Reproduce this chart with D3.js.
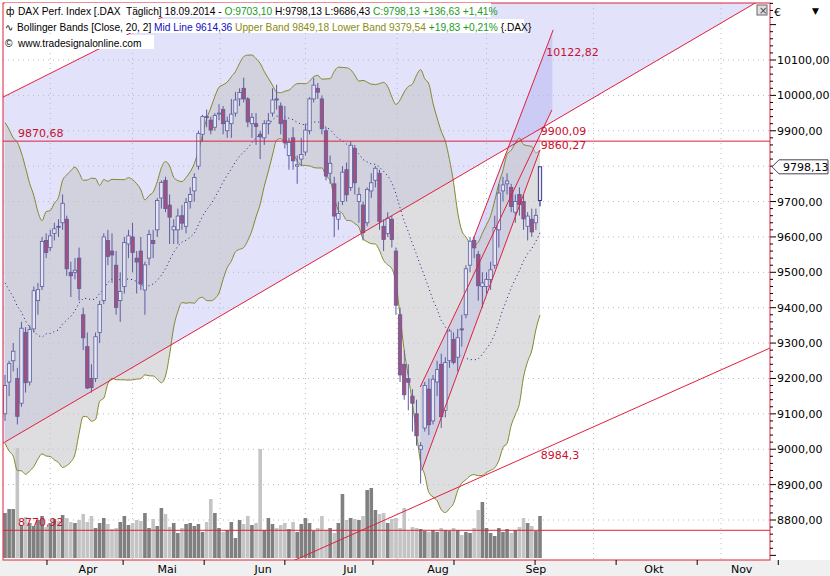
<!DOCTYPE html>
<html>
<head>
<meta charset="utf-8">
<script src="https://cdn.jsdelivr.net/npm/d3@7"></script>
<style>
  body { margin: 0; background: #fff; }
  text { font-family: "DejaVu Sans", sans-serif; }
  .hdr text { font-family: "Liberation Sans", Arial, sans-serif; }
</style>
</head>
<body>
<div class="D3"></div>
<script>
// daily OHLC, 17.03.2014 .. 18.09.2014
const ohlc = [
  [9100,9210,9080,9180],[9190,9250,9150,9242],[9250,9300,9220,9277],[9200,9230,9070,9093],[9130,9360,9120,9342],
  [9330,9345,9160,9188],[9190,9350,9180,9338],[9340,9460,9330,9448],[9420,9470,9380,9451],[9460,9600,9450,9587],
  [9590,9610,9540,9556],[9570,9620,9560,9603],[9610,9640,9590,9623],[9630,9650,9600,9628],[9640,9720,9620,9695],
  [9650,9660,9490,9510],[9500,9530,9430,9490],[9500,9540,9480,9506],[9540,9570,9420,9454],[9380,9400,9280,9315],
  [9290,9330,9170,9173],[9200,9240,9160,9174],[9200,9330,9190,9318],[9330,9420,9300,9409],[9420,9610,9410,9600],
  [9590,9620,9520,9545],[9560,9610,9470,9549],[9520,9560,9380,9401],[9420,9500,9360,9446],[9460,9600,9440,9584],
  [9580,9620,9540,9603],[9600,9640,9500,9556],[9540,9560,9440,9529],[9560,9600,9450,9467],[9450,9530,9380,9521],
  [9540,9620,9520,9607],[9590,9620,9540,9581],[9620,9710,9600,9703],[9710,9760,9680,9754],[9760,9770,9670,9680],
  [9690,9720,9580,9656],[9620,9650,9580,9629],[9620,9680,9580,9659],[9660,9690,9620,9639],[9630,9710,9610,9697],
  [9700,9740,9680,9720],[9730,9780,9700,9768],[9800,9900,9790,9892],[9890,9945,9870,9940],[9940,9960,9910,9939],
  [9930,9940,9890,9902],[9910,9950,9900,9943],[9950,9975,9930,9950],[9960,9970,9890,9920],[9900,9940,9880,9927],
  [9920,9990,9880,9947],[9950,10010,9940,9987],[9990,10020,9970,10008],[10020,10050,9980,9990],[9990,9995,9910,9925],
  [9920,9950,9880,9938],[9920,9950,9860,9912],[9890,9900,9820,9883],[9880,9930,9860,9920],[9920,9950,9890,9928],
  [9950,10020,9940,9987],[9990,10030,9960,9987],[9970,9980,9890,9920],[9930,9970,9850,9866],[9830,9880,9790,9867],
  [9880,9910,9790,9815],[9800,9830,9750,9804],[9820,9880,9800,9833],[9840,9920,9830,9902],[9900,9995,9890,9990],
  [9990,10050,9980,10029],[10020,10035,9990,10009],[9990,10000,9890,9906],[9900,9910,9760,9772],[9780,9830,9750,9808],
  [9750,9770,9600,9659],[9650,9700,9620,9666],[9700,9800,9690,9783],[9790,9810,9700,9719],[9740,9870,9730,9859],
  [9850,9860,9720,9753],[9700,9740,9640,9720],[9690,9700,9590,9612],[9640,9740,9630,9734],[9730,9780,9710,9753],
  [9760,9800,9740,9794],[9780,9790,9620,9644],[9630,9650,9560,9593],[9610,9670,9600,9653],[9650,9660,9570,9593],
  [9560,9570,9380,9407],[9380,9400,9190,9210],[9240,9280,9140,9154],[9200,9240,9110,9189],[9150,9170,9050,9130],
  [9100,9140,9010,9038],[9000,9020,8903,9010],[9060,9190,9050,9180],[9170,9200,9040,9069],[9080,9210,9070,9198],
  [9190,9250,9150,9225],[9240,9270,9060,9092],[9110,9260,9090,9245],[9250,9340,9230,9334],[9310,9330,9240,9245],
  [9260,9340,9220,9315],[9340,9380,9290,9339],[9380,9520,9370,9510],[9520,9600,9500,9588],[9590,9600,9540,9569],
  [9550,9560,9420,9462],[9460,9500,9400,9470],[9460,9500,9440,9480],[9480,9530,9450,9507],[9520,9660,9510,9626],
  [9620,9750,9570,9724],[9730,9770,9700,9747],[9750,9780,9720,9758],[9740,9750,9670,9686],[9670,9720,9640,9700],
  [9720,9740,9660,9691],[9700,9720,9620,9651],[9630,9670,9590,9659],[9650,9680,9600,9614],[9640,9680,9620,9661],
  [9703.10,9798.13,9686.43,9798.13]
];
// closes before the visible range (for the 20-day bands)
const priorCloses = [9660,9660,9620,9660,9700,9690,9660,9700,9692,9358,9590,9507,9542,9350,9307,9265,9190,9017,9056];
const volumes = [
  90,98,98,220,66,82,70,64,76,84,62,70,78,74,86,80,72,70,76,88,
  72,84,60,70,80,68,58,60,72,84,66,70,76,74,90,60,78,64,100,88,
  62,70,50,60,68,70,64,68,52,72,118,90,60,52,56,72,40,76,68,84,
  66,70,218,56,80,68,60,66,70,58,72,52,68,80,70,54,60,84,56,60,
  50,70,128,76,80,78,76,84,136,140,96,88,90,70,78,80,60,100,54,62,
  60,58,54,52,56,52,60,56,54,60,56,46,52,50,60,96,112,60,50,44,
  60,52,58,50,56,62,80,70,64,54,84
];
const yTicks = [8800,8900,9000,9100,9200,9300,9400,9500,9600,9700,9800,9900,10000,10100];
const months = ["Apr","Mai","Jun","Jul","Aug","Sep","Okt","Nov"];
const monthPos = [20.2,39.4,62.7,83.8,105.2,129,157.7,179];
const xTickPos = [10.2,28.7,48.4,68,89.4,109.1,128.8,148.5,168.2,187.9];
const xGridPos = [11,31,52.3,73,95.3,117,143,174];
const hLevels = [{v:9870.68,label:"9870,68"},{v:8770.92,label:"8770,92"}];
const bigUpper = [[-0.5,9995],[45,10261]];
const bigLower = [[-0.5,9017],[182.3,10261]];
const steepLine = [[113.7,9591],[133.2,10185]];
const chanUpper = [[100.9,9176],[132.9,9959]];
const chanLower = [[101.3,8941],[130,9846]];
const longLower = [[70.5,8687],[185.9,9286]];
const lineLabels = [
  {i:131.5,v:10122.82,t:"10122,82"},{i:130.2,v:9900.09,t:"9900,09"},
  {i:130.2,v:9860.27,t:"9860,27"},{i:130.2,v:8984.3,t:"8984,3"}
];

const W = 830, H = 576;
const L = 3, R = 770, T = 3, B = 560;
const x = d3.scaleLinear().domain([0, 130]).range([5, 540]);
const y = d3.scaleLinear().domain([8800, 10100]).range([520, 60]);
const yVol = d3.scaleLinear().domain([0, 220]).range([558, 448]);

// Bollinger Bands [Close, 20, 2]
const closes = priorCloses.concat(ohlc.map(d => d[3]));
const bands = ohlc.map((d, i) => {
  const win = closes.slice(i, i + 20);
  const m = d3.mean(win);
  const sd = Math.sqrt(d3.mean(win, c => (c - m) * (c - m)));
  return {i, mid: m, up: m + 2 * sd, lo: m - 2 * sd};
});

const svg = d3.select(".D3").append("svg").attr("width", W).attr("height", H);
svg.append("rect").attr("width", W).attr("height", H).attr("fill", "#fff");
svg.append("rect").attr("x", 0).attr("y", B).attr("width", W).attr("height", H - B).attr("fill", "#f0f0f0");

svg.append("clipPath").attr("id", "plot").append("rect")
  .attr("x", L).attr("y", T).attr("width", R - L).attr("height", B - T);
const g = svg.append("g").attr("clip-path", "url(#plot)");

const lineAt = (seg, i) => seg[0][1] + (seg[1][1] - seg[0][1]) * (i - seg[0][0]) / (seg[1][0] - seg[0][0]);
const iMin = x.invert(L), iMax = x.invert(R);

// lavender channel area
const lav = d3.range(0, 41).map(k => iMin + (iMax - iMin) * k / 40);
g.append("path")
  .datum(lav)
  .attr("fill", "#e2e2fa")
  .attr("d", d3.area().x(i => x(i)).y0(i => y(lineAt(bigLower, i))).y1(i => Math.min(y(lineAt(bigUpper, i)), y(lineAt(bigLower, i)))));

// grid
g.selectAll(".hg").data(yTicks).join("line")
  .attr("x1", L).attr("x2", R).attr("y1", d => y(d)).attr("y2", d => y(d))
  .attr("stroke", "#b8b8c8").attr("stroke-dasharray", "1,4");
g.selectAll(".vg").data(xGridPos).join("line")
  .attr("x1", d => x(d)).attr("x2", d => x(d)).attr("y1", T).attr("y2", B)
  .attr("stroke", "#b8b8c8").attr("stroke-dasharray", "1,4");

// steep channel fills
const chI = d3.range(101, 133.3, 0.5);
g.append("path").datum(chI).attr("fill", "#b8b8f0").attr("opacity", 0.55)
  .attr("d", d3.area().x(i => x(i)).y0(i => y(lineAt(chanUpper, i))).y1(i => i < 113.7 ? y(lineAt(chanUpper, i)) : y(lineAt(steepLine, i))));

// volume
g.selectAll(".vol").data(volumes).join("rect")
  .attr("x", (d, i) => x(i) - 1.8).attr("width", 3.6)
  .attr("y", d => yVol(d)).attr("height", d => yVol(0) - yVol(d))
  .attr("fill", (d, i) => ohlc[i][3] >= ohlc[i][0] ? "#808080" : "#c4c4c4");

// bollinger band
g.append("path").datum(bands).attr("fill", "#c8c8cc").attr("fill-opacity", 0.6)
  .attr("d", d3.area().x(d => x(d.i)).y0(d => y(d.lo)).y1(d => y(d.up)).curve(d3.curveMonotoneX));
const bl = d3.line().x(d => x(d.i)).curve(d3.curveMonotoneX);
g.append("path").datum(bands).attr("fill", "none").attr("stroke", "#86862a").attr("d", bl.y(d => y(d.up)));
g.append("path").datum(bands).attr("fill", "none").attr("stroke", "#86862a").attr("d", bl.y(d => y(d.lo)));
g.append("path").datum(bands).attr("fill", "none").attr("stroke", "#1a1a8c").attr("stroke-dasharray", "1,3")
  .attr("d", d3.line().x(d => x(d.i)).y(d => y(d.mid)));

g.append("path").datum(chI.filter(i => i <= 130)).attr("fill", "#c0c0e4").attr("opacity", 0.5)
  .attr("d", d3.area().x(i => x(i)).y0(i => y(lineAt(chanLower, i))).y1(i => y(lineAt(chanUpper, i))));

// candles
const cg = g.selectAll(".c").data(ohlc).join("g");
cg.append("line")
  .attr("x1", (d, i) => x(i)).attr("x2", (d, i) => x(i))
  .attr("y1", d => y(d[1])).attr("y2", d => y(d[2]))
  .attr("stroke", (d, i) => i == 130 ? "#101070" : "#5c5ca0");
cg.append("rect")
  .attr("x", (d, i) => x(i) - 1.7).attr("width", 3.4)
  .attr("y", d => y(Math.max(d[0], d[3])))
  .attr("height", d => Math.max(1, Math.abs(y(d[0]) - y(d[3]))))
  .attr("fill", d => d[3] >= d[0] ? "#e6e6f2" : "#a4507c")
  .attr("stroke", (d, i) => i == 130 ? "#101070" : "#5c5ca0").attr("stroke-width", 0.8);

// trend lines
const red = "#e0203a";
[bigUpper, bigLower, steepLine, chanUpper, chanLower, longLower].forEach(seg => {
  const full = seg === bigUpper || seg === bigLower || seg === longLower;
  const a = full ? iMin : seg[0][0];
  const b = full ? iMax : seg[1][0];
  g.append("line")
    .attr("x1", x(a)).attr("y1", y(lineAt(seg, a)))
    .attr("x2", x(b)).attr("y2", y(lineAt(seg, b)))
    .attr("stroke", red).attr("stroke-width", 1);
});
hLevels.forEach(h => {
  g.append("line").attr("x1", L).attr("x2", R).attr("y1", y(h.v)).attr("y2", y(h.v)).attr("stroke", red);
  g.append("text").attr("x", 18).attr("y", y(h.v) - 4).attr("font-size", 11).attr("fill", "#c8102e").text(h.label);
});
g.selectAll(".ll").data(lineLabels).join("text")
  .attr("x", d => x(d.i)).attr("y", d => y(d.v) + 4).attr("font-size", 11).attr("fill", "#c8102e").text(d => d.t);

// plot frame
svg.append("rect").attr("x", L).attr("y", T).attr("width", R - L).attr("height", B - T)
  .attr("fill", "none").attr("stroke", red);

// header
const hdr = svg.append("g").attr("class", "hdr").attr("font-size", 10.2);
[[5, 3, 486, 14], [4, 19, 520, 14], [4, 35, 150, 14]].forEach(r =>
  hdr.append("rect").attr("x", r[0]).attr("y", r[1]).attr("width", r[2]).attr("height", r[3]).attr("fill", "#fff"));
const header = [
  {y: 15, x: 18, parts: [["DAX Perf. Index [.DAX  Täglich] 18.09.2014 - ", "#000"], ["O:9703,10", "#1a9a1a"], [" H:9798,13 L:9686,43 ", "#000"], ["C:9798,13 +136,63 +1,41%", "#1a9a1a"]]},
  {y: 31, x: 17, parts: [["Bollinger Bands [Close, 20, 2] ", "#000"], ["Mid Line 9614,36 ", "#1010c0"], ["Upper Band 9849,18 Lower Band 9379,54 ", "#8a8a10"], ["+19,83 +0,21% ", "#1a9a1a"], ["{.DAX}", "#000"]]},
  {y: 47, x: 18, parts: [["www.tradesignalonline.com", "#000"]]}
];
header.forEach(h => {
  const t = hdr.append("text").attr("x", h.x).attr("y", h.y).attr("xml:space", "preserve");
  h.parts.forEach(p => t.append("tspan").attr("fill", p[1]).text(p[0]));
});
hdr.append("text").attr("x", 6).attr("y", 15).text("ф");
hdr.append("text").attr("x", 5).attr("y", 31).text("∿");
hdr.append("text").attr("x", 5).attr("y", 47).text("©");

// right axis
const last = ohlc[ohlc.length - 1][3], yl = y(last);
const ra = svg.append("g");
ra.selectAll(".mt").data(d3.range(8700, 10261, 20)).join("line")
  .attr("x1", R).attr("x2", d => d % 100 === 0 ? R + 6 : R + 3)
  .attr("y1", d => y(d)).attr("y2", d => y(d)).attr("stroke", "#000");
ra.selectAll(".yl").data(yTicks.filter(d => Math.abs(y(d) - yl) > 12)).join("text")
  .attr("x", R + 7).attr("y", d => y(d) + 4).attr("font-size", 11)
  .text(d => d3.format(".2f")(d).replace(".", ","));
ra.append("text").attr("x", 774).attr("y", 16).attr("font-size", 11).text("€");
ra.append("text").attr("x", 812).attr("y", 14).attr("font-size", 9).text("▼");
ra.append("rect").attr("x", 757).attr("y", 5).attr("width", 10).attr("height", 10).attr("fill", "#e0e0e0").attr("stroke", "#666");
ra.append("text").attr("x", 759).attr("y", 14).attr("font-size", 10).attr("fill", "#444").text("×");
ra.append("path").attr("d", `M${R + 2},${yl} L${R + 9},${yl - 7} L828,${yl - 7} L828,${yl + 7} L${R + 9},${yl + 7} Z`)
  .attr("fill", "#fff").attr("stroke", "#445");
ra.append("text").attr("x", 783).attr("y", yl + 4).attr("font-size", 11).text(d3.format(".2f")(last).replace(".", ","));

// bottom axis
const xa = svg.append("g");
xa.selectAll(".xt").data(xTickPos).join("line")
  .attr("x1", d => x(d)).attr("x2", d => x(d)).attr("y1", B).attr("y2", B + 5).attr("stroke", "#000");
xa.selectAll(".xl").data(months).join("text")
  .attr("x", (d, i) => x(monthPos[i])).attr("y", 573).attr("font-size", 11).attr("text-anchor", "middle").text(d => d);
</script>
</body>
</html>
